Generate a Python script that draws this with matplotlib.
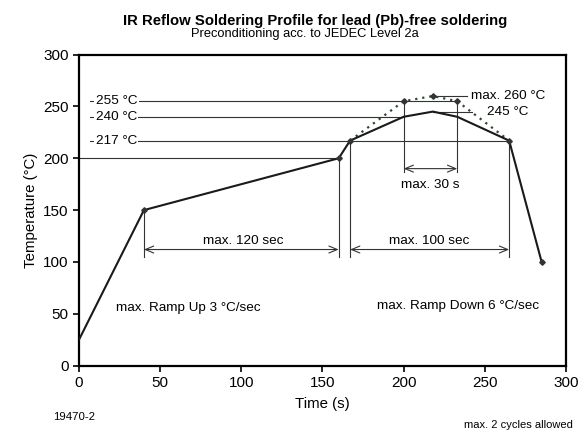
import matplotlib
matplotlib.use("Agg")
import matplotlib.pyplot as plt

plt.rcParams["font.family"] = ["Liberation Sans", "DejaVu Sans"]

# ---- data ----
profile_t = [0, 40, 160, 167, 200, 218, 233, 265, 285]
profile_T = [25, 150, 200, 217, 240, 245, 240, 217, 100]
peak_t = [167, 200, 218, 233, 265]
peak_T = [217, 255, 260, 255, 217]
marker_t = [40, 160, 167, 265, 285, 200, 218, 233]
marker_T = [150, 200, 217, 217, 100, 255, 260, 255]

# reference levels: (temperature, label, x end of line)
levels = [(255, "255 °C", 233), (240, "240 °C", 200), (217, "217 °C", 265)]
soak_t = (40, 160)
liquid_t = (167, 265)
peak_win = (200, 233)

LC = "#1a1a1a"
DC = "#2c4a2c"
GC = "#333333"
FS = 9.7

fig = plt.figure(figsize=(5.85, 4.33), dpi=100)
ax = fig.add_axes([0.135, 0.1555, 0.8325, 0.7185])

# horizontal reference lines
for T, lab, xe in levels:
    ax.plot([6.5, xe], [T, T], color=GC, lw=0.8, zorder=1)
    ax.text(10.3, T, lab, fontsize=FS, va="center", ha="left",
            bbox=dict(fc="white", ec="none", pad=1.0), zorder=2)
ax.plot([0, 160], [200, 200], color=GC, lw=0.8, zorder=1)
ax.plot([218, 239], [260, 260], color=GC, lw=0.8, zorder=1)
ax.plot([218, 242], [245, 245], color=GC, lw=0.8, zorder=1)
ax.text(241.5, 260, "max. 260 °C", fontsize=FS, va="center", ha="left")
ax.text(251.5, 245, "245 °C", fontsize=FS, va="center", ha="left")

# vertical guide lines
ax.plot([40, 40], [150, 105], color=GC, lw=0.8)
ax.plot([160, 160], [200, 105], color=GC, lw=0.8)
ax.plot([167, 167], [217, 105], color=GC, lw=0.8)
ax.plot([265, 265], [217, 105], color=GC, lw=0.8)
ax.plot([200, 200], [255, 187], color=GC, lw=0.8)
ax.plot([233, 233], [255, 187], color=GC, lw=0.8)

arw = dict(arrowstyle="<->,head_length=0.6,head_width=0.25", color=GC, lw=0.8,
           shrinkA=0, shrinkB=0)
ax.annotate("", xy=(soak_t[0], 112), xytext=(soak_t[1], 112), arrowprops=arw)
ax.annotate("", xy=(liquid_t[0], 112), xytext=(liquid_t[1], 112), arrowprops=arw)
ax.annotate("", xy=(peak_win[0], 190), xytext=(peak_win[1], 190), arrowprops=arw)
ax.text(101, 120.5, "max. 120 sec", fontsize=FS, ha="center", va="center")
ax.text(216, 120.5, "max. 100 sec", fontsize=FS, ha="center", va="center")
ax.text(216.5, 174, "max. 30 s", fontsize=FS, ha="center", va="center")
ax.text(22.5, 56, "max. Ramp Up 3 °C/sec", fontsize=FS, ha="left", va="center")
ax.text(183.5, 57.5, "max. Ramp Down 6 °C/sec", fontsize=FS, ha="left", va="center")

# profile curves
ax.plot(peak_t, peak_T, color=DC, lw=1.6, ls=(0, (1, 2.2)), zorder=3)
ax.plot(profile_t, profile_T, color=LC, lw=1.5, zorder=4)
ax.plot(marker_t, marker_T, ls="none", marker="D", ms=2.8, color=GC, zorder=5)

ax.set_xlim(0, 300)
ax.set_ylim(0, 300)
ax.set_xticks(range(0, 301, 50))
ax.set_yticks(range(0, 301, 50))
for s in ax.spines.values():
    s.set_linewidth(1.6)
ax.tick_params(direction="out", length=4, width=1.2, labelsize=11)
ax.set_xlabel("Time (s)", fontsize=10.8, labelpad=5)
ax.set_ylabel("Temperature (°C)", fontsize=10.8, labelpad=4)

fig.text(0.539, 0.9423, "IR Reflow Soldering Profile for lead (Pb)-free soldering",
         fontsize=10.7, fontweight="bold", ha="center", va="baseline")
fig.text(0.522, 0.915, "Preconditioning acc. to JEDEC Level 2a",
         fontsize=9.3, ha="center", va="baseline")
fig.text(0.091, 0.037, "19470-2", fontsize=8.2, ha="left", va="center")
fig.text(0.98, 0.018, "max. 2 cycles allowed", fontsize=8, ha="right", va="center")

fig.savefig("out.png", dpi=100)
